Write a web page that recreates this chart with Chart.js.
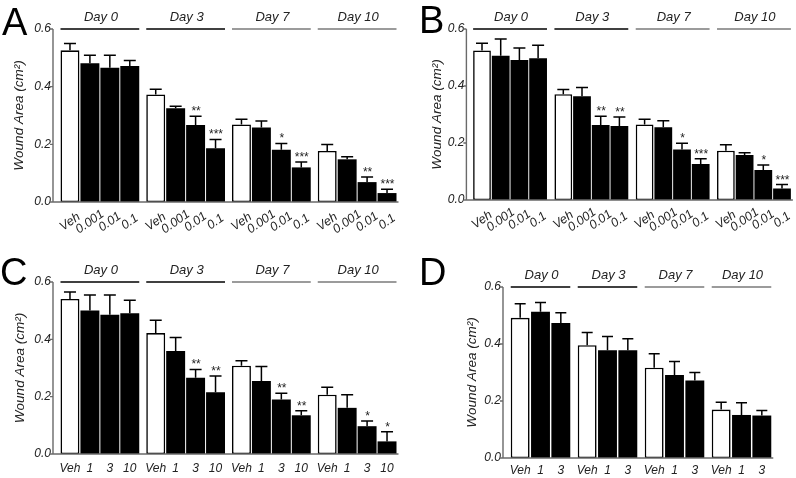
<!DOCTYPE html>
<html>
<head>
<meta charset="utf-8">
<script src="https://cdn.jsdelivr.net/npm/chart.js@4/dist/chart.umd.min.js"></script>
<style>
    body { margin: 0; background: #fff; }
    #fig { position: relative; width: 796px; height: 478px; overflow: hidden; }
    #fig canvas { position: absolute; }
    .letter { position: absolute; font: 38px/38px "Liberation Sans", Arial, sans-serif; color: #000; }
</style>
</head>
<body>
<div id="fig">
    <canvas id="chart-a" width="400" height="240" style="left:0;top:0"></canvas>
    <canvas id="chart-b" width="396" height="240" style="left:400px;top:0"></canvas>
    <canvas id="chart-c" width="400" height="238" style="left:0;top:240px"></canvas>
    <canvas id="chart-d" width="396" height="238" style="left:400px;top:240px"></canvas>
    <div class="letter" style="left:2px;top:3px">A</div>
    <div class="letter" style="left:419px;top:1px">B</div>
    <div class="letter" style="left:0;top:253px">C</div>
    <div class="letter" style="left:419px;top:253px">D</div>
</div>
<script>
// --- datos ---
const days = ['Day 0', 'Day 3', 'Day 7', 'Day 10'];
const yTicks = [0, 0.2, 0.4, 0.6];
const yTitle = 'Wound Area (cm²)';

const dosesAB = ['Veh', '0.001', '0.01', '0.1'];
const dosesC = ['Veh', '1', '3', '10'];
const dosesD = ['Veh', '1', '3'];

// una fila por dosis, una columna por día
const aMean = [
    [0.526, 0.373, 0.269, 0.177],
    [0.481, 0.325, 0.258, 0.148],
    [0.466, 0.267, 0.181, 0.069],
    [0.472, 0.186, 0.120, 0.031]
];
const aErr = [
    [0.024, 0.018, 0.018, 0.022],
    [0.028, 0.007, 0.023, 0.009],
    [0.043, 0.030, 0.022, 0.018],
    [0.019, 0.031, 0.019, 0.013]
];
const aStars = [
    ['', '', '', ''],
    ['', '', '', ''],
    ['', '**', '*', '**'],
    ['', '***', '***', '***']
];

const bMean = [
    [0.525, 0.371, 0.265, 0.173],
    [0.506, 0.364, 0.255, 0.158],
    [0.491, 0.263, 0.177, 0.105],
    [0.497, 0.260, 0.126, 0.040]
];
const bErr = [
    [0.025, 0.017, 0.018, 0.021],
    [0.059, 0.031, 0.023, 0.008],
    [0.042, 0.031, 0.022, 0.018],
    [0.046, 0.031, 0.019, 0.014]
];
const bStars = [
    ['', '', '', ''],
    ['', '', '', ''],
    ['', '**', '*', '*'],
    ['', '**', '***', '***']
];

const cMean = [
    [0.541, 0.422, 0.308, 0.207],
    [0.501, 0.359, 0.255, 0.161],
    [0.486, 0.266, 0.190, 0.097],
    [0.491, 0.215, 0.135, 0.044]
];
const cErr = [
    [0.024, 0.045, 0.017, 0.026],
    [0.054, 0.047, 0.050, 0.046],
    [0.069, 0.029, 0.022, 0.018],
    [0.045, 0.057, 0.016, 0.034]
];
const cStars = [
    ['', '', '', ''],
    ['', '', '', ''],
    ['', '**', '**', '*'],
    ['', '**', '**', '*']
];

const dMean = [
    [0.492, 0.396, 0.317, 0.170],
    [0.513, 0.378, 0.291, 0.151],
    [0.474, 0.378, 0.272, 0.149]
];
const dErr = [
    [0.049, 0.044, 0.049, 0.026],
    [0.033, 0.048, 0.048, 0.043],
    [0.036, 0.040, 0.028, 0.018]
];

// --- estilos ---
const FONT = '"Liberation Sans", Arial, Helvetica, sans-serif';
const TEXT = '#222';
const AXIS = '#6a6a6a';
const dayLineColors = ['#000', '#000', '#7a7a7a', '#7a7a7a'];

Chart.defaults.font.family = FONT;
Chart.defaults.color = TEXT;

// barras de error, asteriscos, etiquetas, encabezados de día y ejes
const figurePlugin = {
    id: 'figure',
    afterDatasetsDraw(chart, args, opts) {
        const ctx = chart.ctx;
        const area = chart.chartArea;
        const y = chart.scales.y;
        const axisX = area.left - opts.axisGap;
        const sets = chart.data.datasets;
        const metas = sets.map((d, i) => chart.getDatasetMeta(i));
        ctx.save();

        // error bars + stars + dose labels
        metas.forEach((meta, di) => {
            const ds = sets[di];
            meta.data.forEach((bar, k) => {
                const top = y.getPixelForValue(ds.data[k] + ds.err[k]);
                ctx.strokeStyle = '#000';
                ctx.lineWidth = 1.5;
                ctx.beginPath();
                ctx.moveTo(bar.x, bar.y);
                ctx.lineTo(bar.x, top);
                ctx.moveTo(bar.x - opts.cap / 2, top);
                ctx.lineTo(bar.x + opts.cap / 2, top);
                ctx.stroke();

                if (ds.stars && ds.stars[k]) {
                    ctx.fillStyle = TEXT;
                    ctx.font = 'italic 12px ' + FONT;
                    ctx.textAlign = 'center';
                    ctx.textBaseline = 'alphabetic';
                    ctx.fillText(ds.stars[k], bar.x, top - 1);
                }

                ctx.save();
                ctx.fillStyle = TEXT;
                ctx.font = 'italic ' + opts.labelSize + 'px ' + FONT;
                ctx.textAlign = 'center';
                ctx.textBaseline = 'middle';
                ctx.translate(bar.x, area.bottom + opts.labelDy);
                if (opts.rotate) ctx.rotate(-opts.rotate * Math.PI / 180);
                ctx.fillText(ds.label, 0, 0);
                ctx.restore();
            });
        });

        // day headers
        const first = metas[0];
        const last = metas[metas.length - 1];
        chart.data.labels.forEach((day, k) => {
            const b0 = first.data[k];
            const b1 = last.data[k];
            const l = b0.x - b0.width / 2;
            const r = b1.x + b1.width / 2;
            ctx.strokeStyle = dayLineColors[k];
            ctx.lineWidth = 1.3;
            ctx.beginPath();
            ctx.moveTo(l, area.top);
            ctx.lineTo(r, area.top);
            ctx.stroke();
            ctx.fillStyle = TEXT;
            ctx.font = 'italic 13px ' + FONT;
            ctx.textAlign = 'center';
            ctx.textBaseline = 'alphabetic';
            ctx.fillText(day, (l + r) / 2 + 1, area.top - 8);
        });

        // axes
        const lastBar = last.data[last.data.length - 1];
        ctx.strokeStyle = AXIS;
        ctx.lineWidth = 1.4;
        ctx.beginPath();
        ctx.moveTo(axisX, area.top);
        ctx.lineTo(axisX, area.bottom);
        ctx.lineTo(lastBar.x + lastBar.width / 2 + 2, area.bottom);
        y.ticks.forEach(t => {
            const py = y.getPixelForValue(t.value);
            ctx.moveTo(axisX - 3, py);
            ctx.lineTo(axisX, py);
        });
        ctx.stroke();
        ctx.restore();
    }
};

function buildDatasets(doses, means, errs, stars) {
    return doses.map((dose, i) => ({
        label: dose,
        data: means[i],
        err: errs[i],
        stars: stars ? stars[i] : null,
        backgroundColor: i === 0 ? '#fff' : '#000',
        borderColor: '#000',
        borderWidth: i === 0 ? 1.6 : 0,
        borderSkipped: false
    }));
}

function makePanel(id, datasets, p) {
    datasets.forEach(d => {
        d.categoryPercentage = p.catPct;
        d.barPercentage = p.barPct;
    });
    const canvas = document.getElementById(id);
    return new Chart(canvas.getContext('2d'), {
        type: 'bar',
        data: { labels: days, datasets },
        plugins: [figurePlugin],
        options: {
            responsive: false,
            animation: false,
            events: [],
            layout: {
                padding: {
                    left: p.titleX - 6.5,
                    top: p.top,
                    right: canvas.width - p.right,
                    bottom: canvas.height - p.bottom
                }
            },
            plugins: {
                legend: { display: false },
                tooltip: { enabled: false },
                figure: { axisGap: p.axisGap, cap: p.cap, labelDy: p.labelDy, rotate: p.rotate, labelSize: p.labelSize }
            },
            scales: {
                x: { display: false },
                y: {
                    min: 0,
                    max: 0.6,
                    afterBuildTicks: s => { s.ticks = yTicks.map(v => ({ value: v })); },
                    afterFit: s => { s.width = p.left - (p.titleX - 6.5); },
                    grid: { display: false, drawTicks: false },
                    border: { display: false },
                    ticks: {
                        padding: p.axisGap + 2,
                        font: { style: 'italic', size: 12 },
                        color: TEXT,
                        callback: v => Number(v).toFixed(1)
                    },
                    title: {
                        display: true,
                        text: yTitle,
                        color: TEXT,
                        padding: { top: 0, bottom: 0 },
                        font: { style: 'italic', size: 13.5, lineHeight: 1 }
                    }
                }
            }
        }
    });
}

makePanel('chart-a', buildDatasets(dosesAB, aMean, aErr, aStars),
    { titleX: 19, left: 57, axisGap: 4, top: 29, bottom: 202, right: 400,
      catPct: 0.93, barPct: 0.95, cap: 12, labelDy: 20, rotate: 35, labelSize: 12.5 });

makePanel('chart-b', buildDatasets(dosesAB, bMean, bErr, bStars),
    { titleX: 37, left: 69.4, axisGap: 3, top: 29, bottom: 200, right: 394.6,
      catPct: 0.92, barPct: 0.95, cap: 12, labelDy: 20, rotate: 35, labelSize: 12.5 });

makePanel('chart-c', buildDatasets(dosesC, cMean, cErr, cStars),
    { titleX: 20, left: 57, axisGap: 4, top: 42, bottom: 214, right: 400,
      catPct: 0.93, barPct: 0.95, cap: 12, labelDy: 15, rotate: 0, labelSize: 12 });

makePanel('chart-d', buildDatasets(dosesD, dMean, dErr, null),
    { titleX: 72, left: 107, axisGap: 4, top: 47, bottom: 218, right: 375,
      catPct: 0.91, barPct: 0.93, cap: 11, labelDy: 13, rotate: 0, labelSize: 12 });
</script>
</body>
</html>
